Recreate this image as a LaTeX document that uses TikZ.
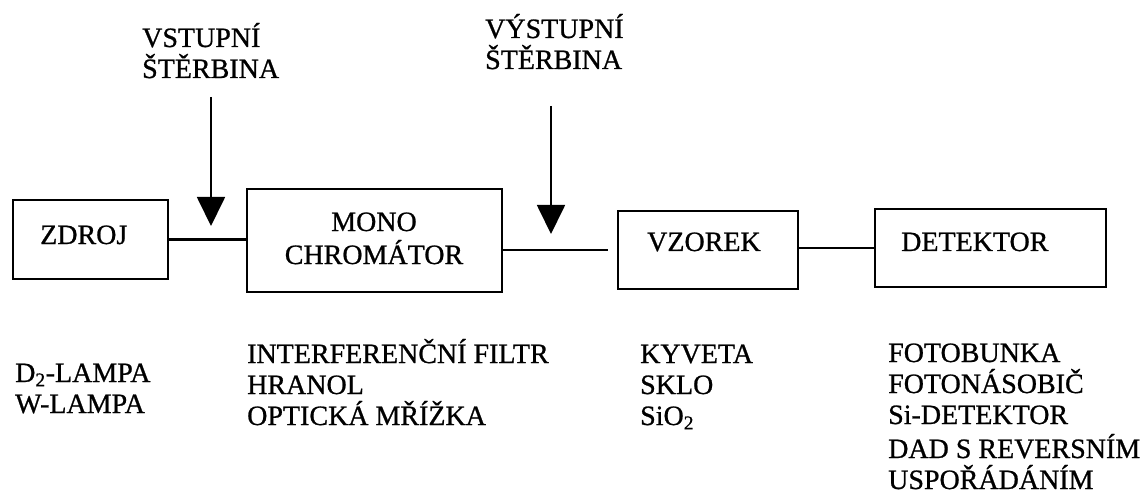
\documentclass[tikz,border=0pt]{standalone}
\usepackage{fontspec}
\setmainfont{Liberation Serif}[RawFeature={embolden=0.8}]
\usetikzlibrary{arrows.meta}

\begin{document}
\begin{tikzpicture}[x=1pt,y=-1pt,
    blok/.style={draw, line width=2.6pt, rectangle, inner sep=0pt},
    spoj/.style={line width=2.2pt},
    sterbina/.style={line width=1.8pt, -{Triangle[length=29pt,width=28pt]}},
    popis/.style={anchor=base west, inner sep=0pt, font=\fontsize{28}{31}\selectfont},
    seznam/.style={popis, align=left}]
  \useasboundingbox (0,0) rectangle (1144,500);

  % blocks of the spectrophotometer
  \node[blok, minimum width=155pt, minimum height=79pt]  (zdroj)    at (90.5,239.5) {};
  \node[blok, minimum width=255pt, minimum height=103pt] (mono)     at (374.5,240.5) {};
  \node[blok, minimum width=180pt, minimum height=78pt]  (vzorek)   at (708,250) {};
  \node[blok, minimum width=231pt, minimum height=78pt]  (detektor) at (990.5,248) {};

  % block titles
  \node[popis] (tzdroj) at (40,244) {ZDROJ};
  \node[popis, anchor=base] (tmono) at (374,231) {MONO};
  \node[popis, anchor=base] (tchrom) at (374,264) {CHROMÁTOR};
  \node[popis] (tvzorek) at (647,251) {VZOREK};
  \node[popis] (tdetektor) at (901,251) {DETEKTOR};

  % light path
  \draw[spoj] (zdroj.east) -- (zdroj.east -| mono.west);
  \draw[spoj, shorten >=9pt] (mono.east |- vzorek.west) -- (vzorek.west);
  \draw[spoj] (vzorek.east |- detektor.west) -- (detektor.west);

  % slits (multi-line nodes are placed by the baseline of their last line)
  \node[seznam] (vstup) at (142,78) {VSTUPNÍ\\ŠTĚRBINA};
  \node[seznam] (vystup) at (485,69) {VÝSTUPNÍ\\ŠTĚRBINA};
  \coordinate (s1a) at (211,97);
  \coordinate (s1b) at (211,226);
  \coordinate (s2a) at (551,106);
  \coordinate (s2b) at (551,234);
  \draw[sterbina] (s1a) -- (s1b);
  \draw[sterbina] (s2a) -- (s2b);

  % examples of each part
  \node[seznam] (lampy) at (15,413) {D\textsubscript{2}-LAMPA\\W-LAMPA};
  \node[seznam] (mono-typy) at (247,425) {INTERFERENČNÍ FILTR\\HRANOL\\OPTICKÁ MŘÍŽKA};
  \node[seznam] (kyvety) at (640,425) {KYVETA\\SKLO\\SiO\textsubscript{2}};
  \node[seznam] (detektory) at (888,424) {FOTOBUNKA\\FOTONÁSOBIČ\\Si-DETEKTOR};
  \node[seznam] (dad) at (888,489) {DAD S REVERSNÍM\\USPOŘÁDÁNÍM};
\end{tikzpicture}
\end{document}
